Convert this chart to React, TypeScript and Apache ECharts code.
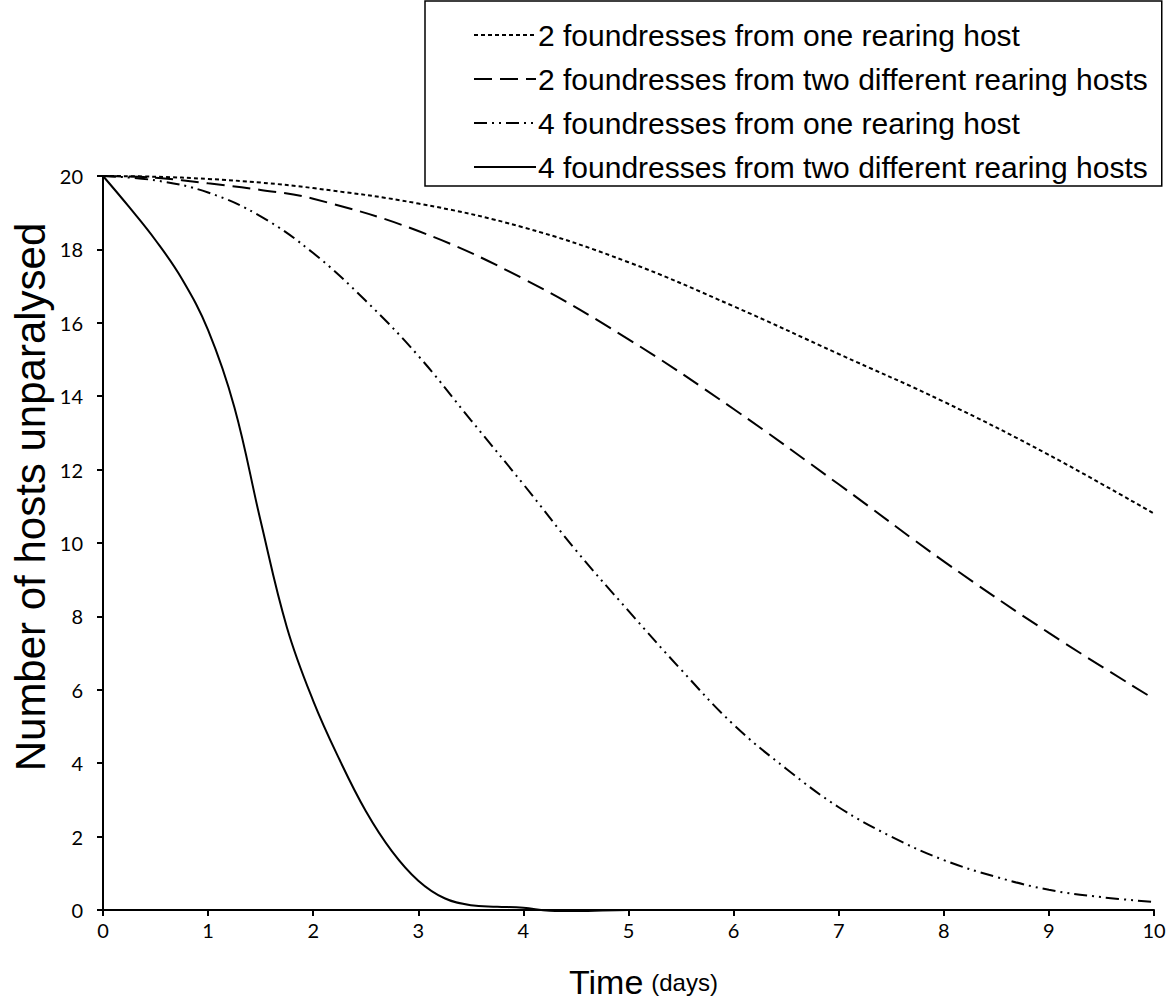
import React, { useEffect, useRef } from "react";
import * as echarts from "echarts";

// Time (days) and number of hosts unparalysed
const seriesNames = [
  "2 foundresses from one rearing host",
  "2 foundresses from two different rearing hosts",
  "4 foundresses from one rearing host",
  "4 foundresses from two different rearing hosts",
];

const timeA = [0, 0.5, 1, 1.5, 2, 3, 4, 5, 6, 7, 8, 9, 10];
const hostsA = [20, 19.98, 19.92, 19.82, 19.67, 19.25, 18.6, 17.65, 16.45, 15.15, 13.85, 12.4, 10.8];

const timeB = [0, 0.5, 1, 1.5, 2, 3, 4, 5, 6, 7, 8, 9, 10];
const hostsB = [20, 19.95, 19.8, 19.62, 19.38, 18.5, 17.2, 15.55, 13.65, 11.6, 9.5, 7.55, 5.75];

const timeC = [0, 0.5, 1, 1.5, 2, 2.5, 3, 3.5, 4, 4.5, 5, 5.5, 6, 6.5, 7, 7.5, 8, 8.5, 9, 9.5, 10];
const hostsC = [20, 19.88, 19.55, 18.9, 17.9, 16.6, 15.1, 13.35, 11.6, 9.8, 8.15, 6.55, 5.05, 3.85, 2.8, 2.0, 1.36, 0.9, 0.55, 0.35, 0.22];

const timeD = [0, 0.25, 0.5, 0.75, 1, 1.25, 1.5, 1.75, 2, 2.25, 2.5, 2.75, 3, 3.25, 3.5, 3.75, 4, 4.25, 4.5, 5, 6, 7, 8, 9, 10];
const hostsD = [20, 19.15, 18.25, 17.2, 15.8, 13.7, 10.6, 7.7, 5.7, 4.1, 2.7, 1.6, 0.8, 0.32, 0.13, 0.09, 0.06, -0.02, -0.03, 0, 0, 0, 0, 0, 0];

const xTicks = { min: 0, max: 10, interval: 1 };
const yTicks = { min: 0, max: 20, interval: 2 };

const pairs = (xs: number[], ys: number[]) => xs.map((x, i) => [x, ys[i]]);

export default function App() {
  const ref = useRef<HTMLDivElement>(null);
  useEffect(() => {
    if (!ref.current) return;
    const chart = echarts.init(ref.current, null, { renderer: "svg" });
    const dashes: any[] = [[4, 3], [18, 8], [13, 5, 2, 5, 2, 5], "solid"];
    const datas = [pairs(timeA, hostsA), pairs(timeB, hostsB), pairs(timeC, hostsC), pairs(timeD, hostsD)];
    chart.setOption({
      animation: false,
      backgroundColor: "#fff",
      grid: { left: 103, right: 18, top: 176, bottom: 96, containLabel: false },
      legend: {
        orient: "vertical",
        left: 425,
        top: 1,
        padding: [19, 14, 4, 48],
        itemWidth: 62,
        itemHeight: 14,
        itemGap: 14,
        borderColor: "#000",
        borderWidth: 1.5,
        selectedMode: false,
        itemStyle: { opacity: 0 },
        textStyle: { fontFamily: "Liberation Sans", fontSize: 30, color: "#000", lineHeight: 30, padding: [0, 0, 0, -3] },
        data: seriesNames,
      },
      xAxis: {
        type: "value",
        min: xTicks.min,
        max: xTicks.max,
        interval: xTicks.interval,
        splitLine: { show: false },
        axisLine: { show: true, onZero: false, lineStyle: { color: "#000", width: 2 } },
        axisTick: { show: true, length: 6, lineStyle: { color: "#000", width: 2 } },
        axisLabel: { fontFamily: "Lato", fontSize: 20, color: "#000", margin: 10 },
      },
      yAxis: {
        type: "value",
        min: yTicks.min,
        max: yTicks.max,
        interval: yTicks.interval,
        splitLine: { show: false },
        axisLine: { show: true, lineStyle: { color: "#000", width: 2 } },
        axisTick: { show: true, length: 6, lineStyle: { color: "#000", width: 2 } },
        axisLabel: { fontFamily: "Lato", fontSize: 20, color: "#000", margin: 20 },
      },
      graphic: [
        {
          type: "text",
          x: 30,
          y: 497,
          rotation: Math.PI / 2,
          style: {
            text: "Number of hosts unparalysed",
            fontFamily: "Liberation Sans",
            fontSize: 42,
            fill: "#000",
            textAlign: "center",
            textVerticalAlign: "middle",
          },
        },
        {
          type: "text",
          x: 569,
          y: 982,
          style: {
            text: "{a|Time}{b|(days)}",
            textAlign: "left",
            textVerticalAlign: "middle",
            rich: {
              a: { fontFamily: "Liberation Sans", fontSize: 34, lineHeight: 36, fill: "#000" },
              b: { fontFamily: "Liberation Sans", fontSize: 24, lineHeight: 36, fill: "#000", padding: [0, 0, 0, 8] },
            },
          },
        },
      ],
      series: seriesNames.map((name, i) => ({
        name,
        type: "line",
        data: datas[i],
        showSymbol: false,
        symbol: "none",
        smooth: 0.4,
        clip: false,
        lineStyle: { color: "#000", width: 2, type: dashes[i], cap: "butt" },
        itemStyle: { color: "#000" },
        z: 3,
      })),
    });
    return () => chart.dispose();
  }, []);
  return (
    <div
      ref={ref}
      style={{ position: "absolute", left: 0, top: 0, width: 1172, height: 1006 }}
    />
  );
}
